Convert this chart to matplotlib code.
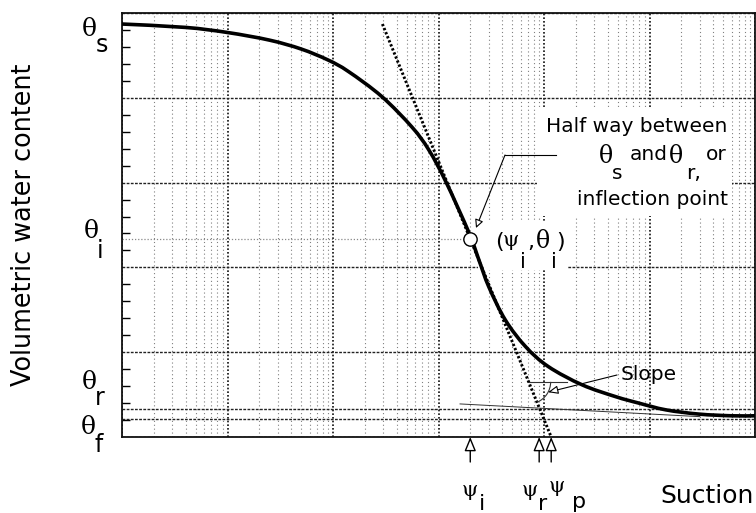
import numpy as np
import matplotlib.pyplot as plt
from matplotlib.patches import Rectangle, Arc, PathPatch
from matplotlib.path import Path
from matplotlib.transforms import IdentityTransform
from matplotlib.ticker import LogLocator, MultipleLocator, NullFormatter

#土水特征曲线(SWCC)示意图
#吸力(对数坐标) - 体积含水率
suction = [1, 4, 10, 25, 50, 90, 140, 290, 560, 810, 1180, 1950, 2420, 3000,
           4300, 6700, 11000, 23000, 48000, 79000, 143000, 294000, 605000, 980000]
theta = [0.974, 0.966, 0.954, 0.936, 0.915, 0.889, 0.862, 0.803, 0.731, 0.677,
         0.601, 0.481, 0.417, 0.354, 0.276, 0.213, 0.166, 0.123, 0.095, 0.080,
         0.064, 0.054, 0.050, 0.050]

#特征点
theta_s = 0.974
theta_i = 0.467
theta_r = 0.066
theta_f = 0.042
psi_i = 2000
psi_r = 9000
psi_p = 11700

#残余段切线
resid_psi = [1600, 300000]
resid_theta = [0.078, 0.048]

#坡度标注
slope_theta = 0.130
slope_psi_end = 16600

W, H = 756, 513
SANS = ['DejaVu Sans']
SERIF = ['DejaVu Serif']

fig = plt.figure(figsize=(W / 100, H / 100), dpi=100)
ax = fig.add_axes([122 / W, 1 - 437 / H, 633 / W, 424 / H])
ax.set_xscale('log')
ax.set_xlim(1, 1e6)
ax.set_ylim(0, 1)


def fpx(px, py):
    #像素位置(左上角为原点) -> figure pixels
    return px, H - py


def put(px, py, s, size=14.5, family=SANS, ha='center', va='baseline', **kw):
    fig.text(px / W, 1 - py / H, s, fontsize=size, family=family,
             ha=ha, va=va, **kw)


def smooth_path(xd, yd):
    #经过各数据点的光滑曲线(Catmull-Rom -> 三次贝塞尔)
    pts = ax.transData.transform(np.column_stack([xd, yd]))
    n = len(pts)
    verts = [pts[0]]
    codes = [Path.MOVETO]
    for i in range(n - 1):
        p0 = pts[max(i - 1, 0)]
        p1 = pts[i]
        p2 = pts[i + 1]
        p3 = pts[min(i + 2, n - 1)]
        verts += [p1 + (p2 - p0) / 6, p2 - (p3 - p1) / 6, p2]
        codes += [Path.CURVE4] * 3
    return Path(verts, codes)


#网格
ax.xaxis.set_major_locator(LogLocator(base=10, numticks=100))
ax.xaxis.set_minor_locator(LogLocator(base=10, subs=np.arange(2, 10), numticks=100))
ax.xaxis.set_minor_formatter(NullFormatter())
ax.yaxis.set_major_locator(MultipleLocator(0.2))
ax.yaxis.set_minor_locator(MultipleLocator(0.04))
ax.set_axisbelow(True)
ax.grid(True, which='major', axis='x', color='#111111', lw=1.2, ls=(0, (1, 1.2)))
ax.grid(True, which='minor', axis='x', color='#808080', lw=0.8, ls=(0, (1, 2.5)))
ax.grid(True, which='major', axis='y', color='#222222', lw=1.0, ls=(0, (2, 1)))
ax.tick_params(axis='x', which='both', length=0, labelbottom=False)
ax.tick_params(axis='y', which='major', length=0, labelleft=False)
ax.tick_params(axis='y', which='minor', direction='in', length=6, width=1,
               left=True, right=False)
for sp in ax.spines.values():
    sp.set_linewidth(1.3)
    sp.set_color('#111111')

#特征含水率水平线
ax.plot([1, psi_i], [theta_i, theta_i], color='#888888', lw=0.9,
        ls=(0, (1, 1.5)), zorder=0.6)
ax.axhline(theta_r, color='#222222', lw=1.0, ls=(0, (2, 1)), zorder=0.6)
ax.axhline(theta_f, color='#222222', lw=1.0, ls=(0, (2, 1)), zorder=0.6)

#文字底色
for x0, y0, x1, y1 in [(537, 108, 732, 216), (478, 221, 568, 270)]:
    ax.add_patch(Rectangle((x0 / W, 1 - y1 / H), (x1 - x0) / W, (y1 - y0) / H,
                           transform=fig.transFigure, fc='white', ec='none',
                           zorder=1))

#曲线
curve = PathPatch(smooth_path(suction, theta), transform=IdentityTransform(),
                  fc='none', ec='black', lw=2.6, capstyle='round',
                  joinstyle='round', zorder=3)
ax.add_patch(curve)
curve.set_clip_path(ax.patch)

#拐点切线
lg = np.log10
k = theta_i / (lg(psi_p) - lg(psi_i))
psi_top = 10 ** (lg(psi_i) - (theta_s - theta_i) / k)
ax.plot([psi_top, psi_p], [theta_s, 0], color='black', lw=2.1,
        ls=(0, (0.8, 0.7)), zorder=3)

#残余段切线
ax.plot(resid_psi, resid_theta, color='#333333', lw=0.7, zorder=2.5)

#拐点
ax.plot(psi_i, theta_i, 'o', ms=9.6, mfc='white', mec='black', mew=1.0,
        zorder=5)

#坡度
psi_s = 10 ** (lg(psi_i) + (theta_i - slope_theta) / k)
ax.plot([psi_s, slope_psi_end], [slope_theta, slope_theta], color='#333333',
        lw=0.8, zorder=3)
c = ax.transData.transform((psi_s, slope_theta))
p2 = ax.transData.transform((psi_p, 0))
ang = np.degrees(np.arctan2(p2[1] - c[1], p2[0] - c[0]))
r = 22
ax.add_patch(Arc(c, 2 * r, 2 * r, theta1=ang, theta2=0,
                 transform=IdentityTransform(), color='#333333', lw=0.8,
                 zorder=3))
tip = (c[0] + r * np.cos(np.radians(-28)), c[1] + r * np.sin(np.radians(-28)))
ax.annotate('', xy=tip, xycoords='figure pixels', xytext=fpx(617, 375),
            textcoords='figure pixels',
            arrowprops=dict(arrowstyle='-|>,head_length=0.6,head_width=0.25',
                            fc='white', ec='black', lw=0.8, shrinkA=0,
                            shrinkB=0), zorder=6)
put(621, 380, 'Slope', ha='left')

#拐点说明
ax.plot([fpx(556, 155)[0], fpx(505, 155)[0]], [fpx(556, 155)[1]] * 2,
        color='black', lw=0.8, transform=IdentityTransform(), zorder=6,
        clip_on=False)
ax.annotate('', xy=fpx(476, 228), xycoords='figure pixels',
            xytext=fpx(505, 155), textcoords='figure pixels',
            arrowprops=dict(arrowstyle='-|>,head_length=0.5,head_width=0.25',
                            fc='white', ec='black', lw=0.8, shrinkA=0,
                            shrinkB=0), zorder=6)
put(727, 132, 'Half way between', ha='right')
put(606, 163, 'θ', 17, SERIF)
put(617, 179, 's')
put(630, 160, 'and', ha='left')
put(676, 163, 'θ', 17, SERIF)
put(686, 179, 'r,', ha='left')
put(727, 160, 'or', ha='right')
put(728, 205, 'inflection point', ha='right')

put(499, 248, '(', 16)
put(511, 246, 'ψ', 15, SERIF)
put(523, 268, 'i', 15)
put(531, 248, ',', 16)
put(543, 248, 'θ', 17, SERIF)
put(554, 268, 'i', 15)
put(561, 248, ')', 16)

#纵轴特征值
put(89, 36, 'θ', 18, SERIF)
put(102, 52, 's', 17)
put(91, 238, 'θ', 18, SERIF)
put(100, 258, 'i', 17)
put(89, 389, 'θ', 18, SERIF)
put(100, 405, 'r', 17)
put(88, 434, 'θ', 18, SERIF)
put(99, 452, 'f', 17)

#横轴特征吸力
for psi in [psi_i, psi_r, psi_p]:
    ax.annotate('', xy=(psi, 0), xycoords=('data', 'axes fraction'),
                xytext=(psi, -25 / 424), textcoords=('data', 'axes fraction'),
                arrowprops=dict(arrowstyle='-|>,head_length=0.85,head_width=0.35',
                                fc='white', ec='black', lw=1.0, shrinkA=0,
                                shrinkB=0))
put(470, 496, 'ψ', 15, SERIF)
put(482, 510, 'i', 16)
put(530, 496, 'ψ', 15, SERIF)
put(543, 510, 'r', 16)
put(557, 492, 'ψ', 15, SERIF)
put(579, 508, 'p', 16)

put(660, 503, 'Suction', 18, ha='left')
put(24, 225, 'Volumetric water content', 18.4, va='center', rotation=90)

fig.savefig('out.png', dpi=100, facecolor='white')
